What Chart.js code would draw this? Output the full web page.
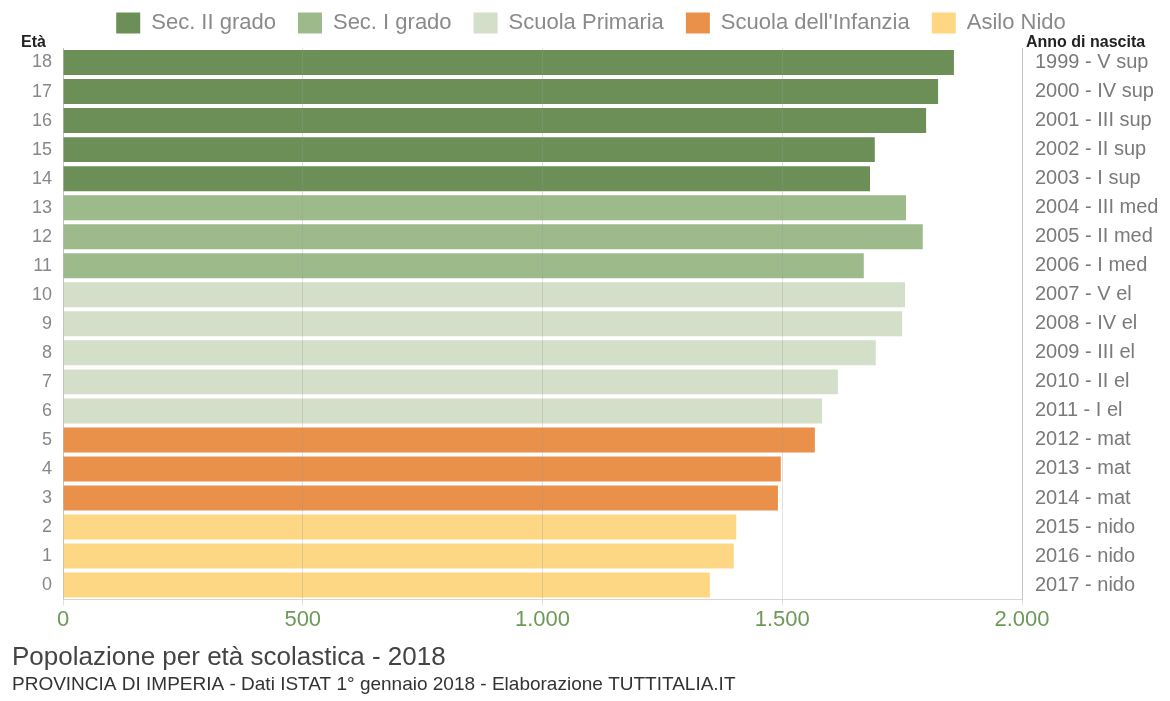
<!DOCTYPE html>
<html>
<head>
<meta charset="utf-8">
<script src="https://cdn.jsdelivr.net/npm/chart.js@4.4.1/dist/chart.umd.min.js"></script>
<style>
  html, body { margin: 0; padding: 0; background: #fff; }
  #wrap { width: 1170px; height: 701px; }
</style>
</head>
<body>
<div id="wrap"><canvas id="scuola"></canvas></div>
<script>
// età (dall'alto verso il basso)
const eta = ["18", "17", "16", "15", "14", "13", "12", "11", "10", "9", "8", "7", "6", "5", "4", "3", "2", "1", "0"];
const anni = ["1999 - V sup", "2000 - IV sup", "2001 - III sup", "2002 - II sup", "2003 - I sup",
  "2004 - III med", "2005 - II med", "2006 - I med",
  "2007 - V el", "2008 - IV el", "2009 - III el", "2010 - II el", "2011 - I el",
  "2012 - mat", "2013 - mat", "2014 - mat",
  "2015 - nido", "2016 - nido", "2017 - nido"];
const popolazione = [1858, 1825, 1800, 1693, 1683, 1758, 1793, 1670, 1756, 1750, 1695, 1616, 1583, 1568, 1497, 1491, 1404, 1399, 1349];
const livello = [0, 0, 0, 0, 0, 1, 1, 1, 2, 2, 2, 2, 2, 3, 3, 3, 4, 4, 4];
const scuole = ["Sec. II grado", "Sec. I grado", "Scuola Primaria", "Scuola dell'Infanzia", "Asilo Nido"];
const colori = ["#6b8f57", "#9dba8b", "#d3dfc8", "#e9914b", "#fdd784"];
const xTicks = [0, 500, 1000, 1500, 2000];

const FONT = "'Liberation Sans', Arial, sans-serif";

const datasets = scuole.map((nome, i) => ({
    label: nome,
    data: popolazione.map((v, j) => livello[j] === i ? v : null),
    backgroundColor: colori[i],
    barPercentage: 0.86,
    categoryPercentage: 1
}));

// "Età" e "Anno di nascita" sopra gli assi
const intestazioni = {
    id: "intestazioni",
    beforeLayout(chart) {
        // un po' di spazio in piu' sotto la legenda
        const leg = chart.legend;
        if (leg && !leg._allungata) {
            const fit = leg.fit;
            leg.fit = function () {
                fit.call(this);
                this.height += 4;
            };
            leg._allungata = true;
        }
    },
    afterDraw(chart) {
        const ctx = chart.ctx;
        const area = chart.chartArea;
        ctx.save();
        ctx.fillStyle = "#222";
        ctx.textBaseline = "alphabetic";
        ctx.textAlign = "left";
        ctx.font = "bold 16px " + FONT;
        ctx.fillText("Età", 21, 47);
        ctx.fillText("Anno di nascita", area.right + 4, 47);
        ctx.restore();
    }
};

function formatta(v) {
    return String(v).replace(/\B(?=(\d{3})+(?!\d))/g, ".");
}

new Chart(document.getElementById("scuola"), {
    type: "bar",
    data: { labels: eta, datasets: datasets },
    plugins: [intestazioni],
    options: {
        indexAxis: "y",
        responsive: true,
        maintainAspectRatio: false,
        animation: false,
        layout: { padding: { left: 12, right: 0, top: -10, bottom: 0 } },
        scales: {
            x: {
                stacked: true,
                min: 0,
                max: 2000,
                afterBuildTicks: s => { s.ticks = xTicks.map(v => ({ value: v })); },
                grid: { color: "rgba(150,150,150,0.28)", z: 1, tickLength: 6 },
                border: { color: "#d6d6d6", z: 1 },
                ticks: {
                    color: "#6e9a58",
                    font: { family: FONT, size: 22 },
                    padding: 1,
                    callback: v => formatta(v)
                }
            },
            y: {
                stacked: true,
                grid: { display: false },
                border: { color: "#d6d6d6" },
                afterFit: s => { s.width = 51; },
                ticks: {
                    color: "#888",
                    font: { family: FONT, size: 18 },
                    padding: 3
                }
            },
            y2: {
                type: "category",
                labels: anni,
                position: "right",
                grid: { display: false, drawTicks: false },
                border: { color: "#d6d6d6" },
                afterFit: s => { s.width = 148; },
                ticks: {
                    color: "#7a7a7a",
                    font: { family: FONT, size: 20 },
                    padding: 13
                }
            }
        },
        plugins: {
            legend: {
                position: "top",
                labels: {
                    boxWidth: 24,
                    boxHeight: 21,
                    padding: 22,
                    color: "#8a8a8a",
                    font: { family: FONT, size: 22 }
                }
            },
            tooltip: { enabled: false },
            title: {
                display: true,
                text: "Popolazione per età scolastica - 2018",
                position: "bottom",
                align: "start",
                color: "#444",
                font: { family: FONT, size: 26, weight: "normal" },
                padding: { top: 8, bottom: 0 },
                weight: 1000
            },
            subtitle: {
                display: true,
                text: "PROVINCIA DI IMPERIA - Dati ISTAT 1° gennaio 2018 - Elaborazione TUTTITALIA.IT",
                position: "bottom",
                align: "start",
                color: "#333",
                font: { family: FONT, size: 19 },
                padding: { top: 0, bottom: 5 },
                weight: 1500
            }
        }
    }
});
</script>
</body>
</html>
